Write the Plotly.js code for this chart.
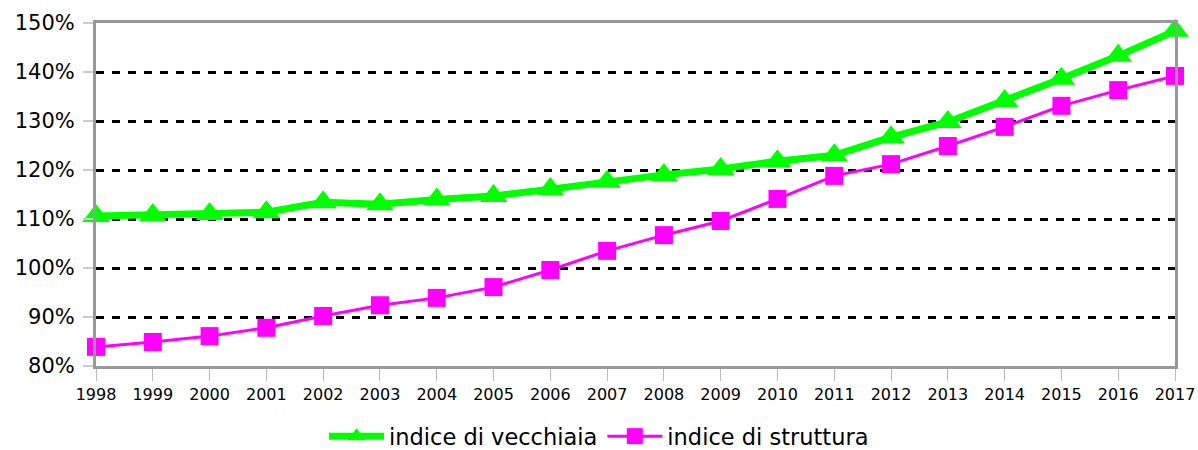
<!DOCTYPE html>
<html>
<head>
<meta charset="utf-8">
<script src="https://cdn.plot.ly/plotly-3.0.1.min.js"></script>
<style>html,body{margin:0;padding:0;background:#fff;}#chart{width:1198px;height:450px;}</style>
</head>
<body>
<div id="chart"></div>
<script>
const years = [1998,1999,2000,2001,2002,2003,2004,2005,2006,2007,2008,2009,2010,2011,2012,2013,2014,2015,2016,2017];
const indiceVecchiaia = [110.6,110.8,111.0,111.4,113.4,113.0,114.0,114.7,116.1,117.6,119.0,120.2,121.8,123.0,126.7,129.8,134.1,138.6,143.3,148.4];
const indiceStruttura = [83.9,84.9,86.1,87.8,90.2,92.4,93.9,96.1,99.6,103.5,106.7,109.6,114.1,118.8,121.2,124.9,128.8,133.1,136.3,139.2];
const yTicks = [80,90,100,110,120,130,140,150];
const yTickLabels = yTicks.map(v => v + '%');

const traces = [
  {x: years, y: indiceVecchiaia, name: 'indice di vecchiaia', type: 'scatter', mode: 'lines+markers',
   line: {color: '#00ff00', width: 7}, marker: {symbol: 'triangle-up', size: 24, color: '#00ff00'}, cliponaxis: false},
  {x: years, y: indiceStruttura, name: 'indice di struttura', type: 'scatter', mode: 'lines+markers',
   line: {color: '#ff00ff', width: 3}, marker: {symbol: 'square', size: 18, color: '#ff00ff'}, cliponaxis: false}
];

const layout = {
  width: 1198, height: 450,
  margin: {l: 96, r: 23, t: 23, b: 84, autoexpand: false},
  paper_bgcolor: '#fff', plot_bgcolor: '#fff',
  font: {family: 'DejaVu Sans, Verdana, sans-serif', color: '#000'},
  showlegend: true,
  legend: {orientation: 'h', x: 0.5, xref: 'container', xanchor: 'center', y: 0.03, yref: 'container', yanchor: 'middle',
    font: {size: 22.5}, itemwidth: 55, tracegroupgap: 0},
  xaxis: {range: [1998, 2017], tickmode: 'array', tickvals: years, ticktext: years.map(String),
    showgrid: false, zeroline: false, showline: true, linecolor: '#999', linewidth: 3, mirror: true,
    ticks: 'outside', ticklen: 12, tickcolor: '#bbb', tickwidth: 1, tickfont: {size: 16}},
  yaxis: {range: [80, 150], tickmode: 'array', tickvals: yTicks, ticktext: yTickLabels,
    showgrid: true, gridcolor: '#000', griddash: '8px,8px', gridwidth: 3, zeroline: false,
    showline: true, linecolor: '#999', linewidth: 3, mirror: true,
    ticks: 'outside', ticklen: 10, tickcolor: '#ccc', tickwidth: 2, tickfont: {size: 21}, ticklabelstandoff: 4}
};

Plotly.newPlot('chart', traces, layout, {displayModeBar: false, staticPlot: true});
</script>
</body>
</html>
